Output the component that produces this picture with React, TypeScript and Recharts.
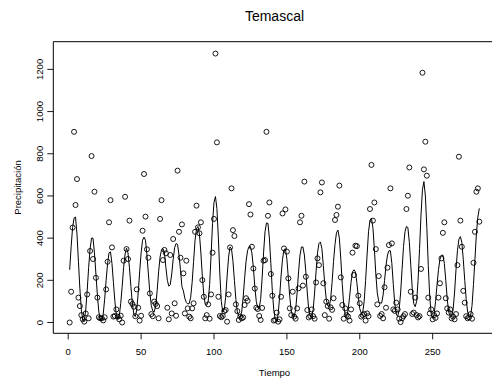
import React from 'react';
import { ComposedChart, Line, Scatter, XAxis, YAxis, ReferenceArea } from 'recharts';

// Observed monthly precipitation (points)
const precipitacion: number[] = [
  0, 146, 450, 904, 557, 680, 118, 78, 35, 15, 4, 43, 133, 20, 339, 789, 301, 620, 212, 118,
  25, 20, 20, 10, 25, 157, 288, 475, 580, 356, 28, 31, 62, 28, 15, 32, 0, 293, 596, 348,
  301, 483, 99, 88, 75, 30, 157, 70, 9, 32, 435, 704, 502, 347, 307, 138, 40, 30, 99, 88,
  78, 20, 491, 580, 296, 344, 328, 70, 15, 320, 43, 396, 91, 32, 720, 430, 307, 465, 233, 43,
  293, 67, 28, 20, 67, 91, 430, 554, 451, 423, 475, 201, 122, 20, 35, 86, 18, 133, 331, 491,
  1275, 854, 122, 31, 25, 31, 54, 59, 4, 133, 356, 636, 438, 410, 86, 54, 12, 28, 20, 24,
  83, 115, 103, 561, 512, 359, 256, 161, 70, 64, 31, 12, 69, 293, 296, 904, 506, 569, 230, 127,
  9, 12, 47, 4, 15, 122, 517, 351, 536, 336, 209, 67, 35, 146, 28, 18, 67, 162, 475, 506,
  175, 668, 217, 59, 24, 31, 62, 30, 18, 190, 304, 272, 617, 664, 186, 35, 99, 78, 18, 72,
  60, 115, 486, 510, 549, 649, 214, 83, 18, 67, 35, 28, 9, 62, 331, 225, 364, 362, 127, 91,
  28, 35, 40, 9, 43, 30, 538, 747, 483, 569, 348, 86, 220, 31, 40, 20, 167, 70, 260, 367,
  636, 375, 62, 55, 94, 62, 18, 2, 20, 30, 40, 538, 601, 735, 146, 40, 47, 118, 35, 24,
  30, 254, 1184, 726, 857, 696, 118, 43, 62, 15, 35, 22, 43, 118, 186, 304, 425, 475, 115, 67,
  47, 62, 20, 28, 15, 40, 272, 786, 483, 359, 150, 94, 30, 20, 25, 40, 18, 283, 430, 620,
  636, 478,
];

// Fitted seasonal curve (line)
const ajuste: number[] = [
  250, 360, 450, 495, 500, 420, 290, 160, 60, 10, 8, 60, 150, 260, 350, 400, 400, 330, 230, 130,
  50, 15, 12, 40, 110, 200, 280, 330, 335, 280, 190, 100, 35, 15, 30, 90, 170, 260, 325, 352,
  330, 260, 170, 90, 40, 28, 60, 140, 240, 330, 390, 405, 390, 320, 230, 140, 80, 55, 50, 80,
  150, 240, 310, 345, 350, 330, 260, 200, 172, 180, 230, 300, 355, 375, 370, 320, 250, 170, 150, 115,
  95, 88, 90, 120, 190, 290, 390, 445, 455, 420, 330, 220, 130, 85, 82, 100, 180, 320, 470, 570,
  597, 540, 400, 230, 100, 50, 60, 120, 220, 310, 358, 350, 290, 200, 110, 50, 30, 28, 50, 120,
  210, 290, 340, 360, 360, 330, 260, 170, 100, 70, 68, 110, 210, 330, 430, 472, 470, 400, 280, 150,
  60, 15, 5, 40, 120, 220, 300, 345, 350, 300, 210, 120, 55, 30, 28, 60, 140, 240, 320, 358,
  358, 320, 240, 140, 60, 30, 28, 60, 140, 240, 330, 375, 382, 350, 270, 180, 110, 80, 75, 110,
  190, 290, 370, 425, 438, 400, 300, 180, 80, 35, 28, 60, 120, 190, 240, 250, 240, 190, 120, 65,
  45, 45, 100, 200, 320, 430, 485, 494, 450, 350, 230, 140, 100, 92, 92, 130, 200, 270, 320, 340,
  340, 280, 180, 90, 40, 28, 60, 140, 250, 360, 430, 455, 450, 380, 270, 160, 90, 75, 100, 200,
  350, 510, 630, 668, 600, 450, 270, 120, 40, 20, 40, 100, 180, 250, 300, 318, 320, 280, 200, 110,
  50, 30, 28, 60, 140, 250, 340, 395, 407, 380, 300, 200, 110, 50, 28, 30, 80, 180, 300, 420,
  500, 541,
];

const tiempo: number[] = precipitacion.map((_, i) => i + 1);
const xTicks = [0, 50, 100, 150, 200, 250];
const yTicks = [0, 200, 400, 600, 800, 1000, 1200];

const data = tiempo.map((t, i) => ({ t, obs: precipitacion[i], fit: ajuste[i] }));

const FONT = '"Liberation Sans", Arial, Helvetica, sans-serif';
const X_DOMAIN: [number, number] = [-10.24, 293.24];
const Y_DOMAIN: [number, number] = [-51.2, 1331.2];

const XTick = (props: any) => {
  const { x, payload } = props;
  return (
    <text x={x} y={355} textAnchor="middle" fontSize={9.5} fontFamily={FONT} fill="#000">
      {payload.value}
    </text>
  );
};

const YTick = (props: any) => {
  const { y, payload } = props;
  const bx = 43.3;
  return (
    <text
      x={bx}
      y={y}
      transform={`rotate(-90, ${bx}, ${y})`}
      textAnchor="middle"
      fontSize={9.5}
      fontFamily={FONT}
      fill="#000"
    >
      {payload.value}
    </text>
  );
};

const Circle = (props: any) => {
  const { cx, cy } = props;
  if (cx == null || cy == null) return null;
  return <circle cx={cx} cy={cy} r={2.5} fill="none" stroke="#000" strokeWidth={0.9} />;
};

export default function App() {
  return (
    <div
      style={{
        position: 'fixed',
        left: 0,
        top: 0,
        width: 492,
        height: 385,
        overflow: 'hidden',
        background: '#fff',
      }}
    >
      <ComposedChart
        width={500}
        height={385}
        data={data}
        margin={{ top: 41.7, right: 4.3, left: 0, bottom: 0 }}
      >
        <XAxis
          dataKey="t"
          type="number"
          domain={X_DOMAIN}
          allowDataOverflow
          ticks={xTicks}
          axisLine={false}
          tickLine={{ stroke: '#000', strokeWidth: 0.9 }}
          tickSize={6}
          tick={<XTick />}
          height={51.7}
          interval={0}
        />
        <YAxis
          type="number"
          domain={Y_DOMAIN}
          allowDataOverflow
          ticks={yTicks}
          axisLine={false}
          tickLine={{ stroke: '#000', strokeWidth: 0.9 }}
          tickSize={6}
          tick={<YTick />}
          width={53.3}
          interval={0}
        />
        <ReferenceArea
          x1={X_DOMAIN[0]}
          x2={X_DOMAIN[1]}
          y1={Y_DOMAIN[0]}
          y2={Y_DOMAIN[1]}
          fill="none"
          stroke="#000"
          strokeWidth={1}
          ifOverflow="visible"
        />
        <Line
          dataKey="fit"
          type="linear"
          stroke="#000"
          strokeWidth={1}
          dot={false}
          isAnimationActive={false}
        />
        <Scatter dataKey="obs" shape={<Circle />} isAnimationActive={false} />
      </ComposedChart>
      <svg
        width={492}
        height={385}
        style={{ position: 'absolute', left: 0, top: 0, pointerEvents: 'none' }}
      >
        <text x={274.5} y={20.5} textAnchor="middle" fontSize={14} fontFamily={FONT} fill="#000">
          Temascal
        </text>
        <text x={274.5} y={375.5} textAnchor="middle" fontSize={9.5} fontFamily={FONT} fill="#000">
          Tiempo
        </text>
        <text
          x={21}
          y={187.5}
          transform="rotate(-90, 21, 187.5)"
          textAnchor="middle"
          fontSize={9.5}
          fontFamily={FONT}
          fill="#000"
        >
          Precipitación
        </text>
      </svg>
    </div>
  );
}
